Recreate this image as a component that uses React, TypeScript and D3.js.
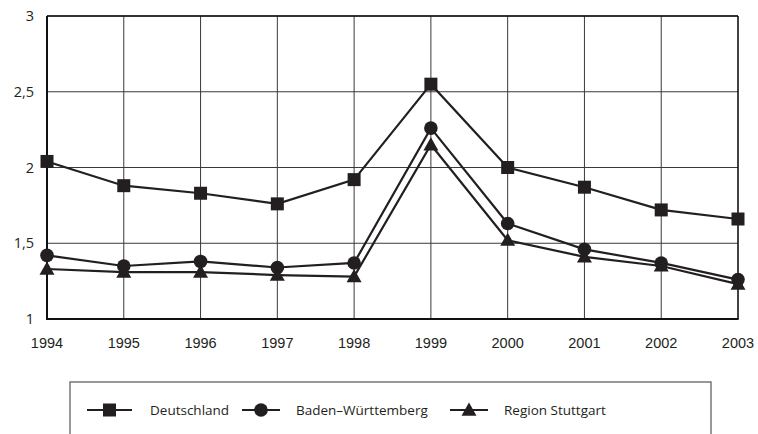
import React from "react";
import * as d3 from "d3";

const years = [1994, 1995, 1996, 1997, 1998, 1999, 2000, 2001, 2002, 2003];
const deutschland = [2.04, 1.88, 1.83, 1.76, 1.92, 2.55, 2.0, 1.87, 1.72, 1.66];
const badenWuerttemberg = [1.42, 1.35, 1.38, 1.34, 1.37, 2.26, 1.63, 1.46, 1.37, 1.26];
const regionStuttgart = [1.33, 1.31, 1.31, 1.29, 1.28, 2.15, 1.52, 1.41, 1.35, 1.23];
const yTicks = [1, 1.5, 2, 2.5, 3];
const seriesNames = ["Deutschland", "Baden\u2013Württemberg", "Region Stuttgart"];
const seriesSymbols = ["square", "circle", "triangle"];

const W = 758;
const H = 434;
const left = 47, right = 738, top = 16, bottom = 319;
const FONT = "'Open Sans', 'DejaVu Sans', sans-serif";
const NUMFONT = "'Liberation Sans', Arial, sans-serif";

function Marker({ type, x, y }: { type: string; x: number; y: number }) {
  if (type === "square") return <rect x={x - 6.5} y={y - 6.5} width={13} height={13} fill="#231f20" />;
  if (type === "circle") return <circle cx={x} cy={y} r={6.8} fill="#231f20" />;
  const s = 7.5;
  return <path d={`M${x},${y - s}L${x + s},${y + s * 0.75}L${x - s},${y + s * 0.75}Z`} fill="#231f20" />;
}

export default function App() {
  const x = d3.scaleLinear().domain([years[0], years[years.length - 1]]).range([left, right]);
  const y = d3.scaleLinear().domain([1, 3]).range([bottom, top]);
  const data = [deutschland, badenWuerttemberg, regionStuttgart];
  const line = d3.line<number>().x((_, i) => x(years[i])).y((d) => y(d));
  const fmt = (v: number) => String(v).replace(".", ",");
  const legendItems = [
    { sx: 87, ex: 132, tx: 150 },
    { sx: 242, ex: 280, tx: 296 },
    { sx: 450, ex: 488, tx: 504 },
  ];
  return (
    <svg width={W} height={H} style={{ position: "absolute", left: 0, top: 0, background: "#fff" }} fontFamily={FONT}>
      <rect width={W} height={H} fill="#fff" />
      {yTicks.map((t) => (
        <line key={"h" + t} x1={left} x2={right} y1={y(t)} y2={y(t)} stroke="#3a3a3a" strokeWidth={1} />
      ))}
      {years.map((yr) => (
        <line key={"v" + yr} x1={x(yr)} x2={x(yr)} y1={top} y2={bottom} stroke="#3a3a3a" strokeWidth={1} />
      ))}
      <line x1={right} x2={right} y1={top} y2={bottom} stroke="#111" strokeWidth={1.3} />
      <line x1={left} x2={right} y1={top} y2={top} stroke="#111" strokeWidth={1.3} />
      <line x1={left} x2={left} y1={top} y2={bottom + 1} stroke="#111" strokeWidth={2} />
      <line x1={left - 1} x2={right + 0.6} y1={bottom} y2={bottom} stroke="#111" strokeWidth={2} />
      {yTicks.map((t) => (
        <text key={"yl" + t} x={34} y={y(t)} dy="0.35em" textAnchor="end" fontSize={14.5} fill="#231f20">
          {fmt(t)}
        </text>
      ))}
      {years.map((yr) => (
        <text key={"xl" + yr} x={x(yr)} y={348} textAnchor="middle" fontSize={14.5} fontFamily={NUMFONT} fill="#231f20">
          {yr}
        </text>
      ))}
      {data.map((s, i) => (
        <g key={"s" + i}>
          <path d={line(s) || ""} fill="none" stroke="#231f20" strokeWidth={2.2} />
          {s.map((v, j) => (
            <Marker key={j} type={seriesSymbols[i]} x={x(years[j])} y={y(v)} />
          ))}
        </g>
      ))}
      <rect x={70} y={382} width={641} height={70} fill="none" stroke="#777" strokeWidth={1.5} />
      {legendItems.map((it, i) => (
        <g key={"l" + i}>
          <line x1={it.sx} x2={it.ex} y1={410} y2={410} stroke="#231f20" strokeWidth={2.2} />
          <Marker type={seriesSymbols[i]} x={(it.sx + it.ex) / 2} y={410} />
          <text x={it.tx} y={410} dy="0.35em" fontSize={13.5} fill="#231f20">
            {seriesNames[i]}
          </text>
        </g>
      ))}
    </svg>
  );
}
